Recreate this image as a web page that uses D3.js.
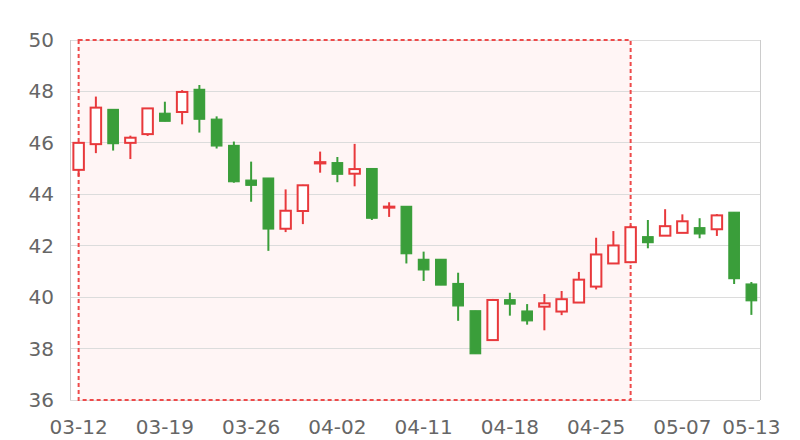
<!DOCTYPE html>
<html>
<head>
<meta charset="utf-8">
<script src="https://cdn.jsdelivr.net/npm/d3@7/dist/d3.min.js"></script>
<style>
  html, body { margin: 0; padding: 0; background: #fff; }
  svg { display: block; font-family: "DejaVu Sans", sans-serif; }
</style>
</head>
<body>
<svg id="chart" width="800" height="440"></svg>
<script>
const dates = ["03-12","03-13","03-14","03-15","03-16","03-19","03-20","03-21","03-22","03-23",
  "03-26","03-27","03-28","03-29","03-30","04-02","04-03","04-04","04-09","04-10",
  "04-11","04-12","04-13","04-16","04-17","04-18","04-19","04-20","04-23","04-24",
  "04-25","04-26","04-27","05-02","05-03","05-07","05-08","05-09","05-10","05-13"];
const opens  = [44.95,45.95,47.30,46.00,46.34,47.15,47.20,48.08,46.92,45.90,
  44.55,44.63,42.66,43.35,45.20,45.23,44.80,45.00,43.48,43.53,
  41.47,41.47,40.53,39.47,38.33,39.90,39.46,39.63,39.44,39.79,
  40.41,41.31,41.36,42.35,42.39,42.50,42.70,42.64,43.30,40.51];
const closes = [46.00,47.37,45.97,46.20,47.34,46.84,47.98,46.92,45.88,44.49,
  44.35,42.65,43.36,44.35,45.25,44.78,44.98,43.07,43.52,41.69,
  41.06,40.47,39.66,37.80,39.89,39.73,39.08,39.76,39.92,40.68,
  41.66,42.01,42.72,42.12,42.76,42.95,42.46,43.18,40.72,39.86];
const lows   = [44.70,45.60,45.70,45.37,46.27,46.84,46.72,46.40,45.78,44.45,
  43.71,41.80,42.53,42.84,44.84,44.47,44.31,43.00,43.12,41.31,
  40.63,40.47,39.08,37.80,38.33,39.28,38.93,38.71,39.30,39.79,
  40.30,41.31,41.32,41.90,42.39,42.50,42.29,42.38,40.51,39.31];
const highs  = [46.00,47.80,47.30,46.28,47.34,47.60,48.05,48.25,47.03,46.05,
  45.27,44.63,44.19,44.37,45.66,45.45,45.96,45.00,43.69,43.53,
  41.77,41.47,40.95,39.47,39.93,40.17,39.73,40.12,40.24,40.98,
  42.31,42.57,42.79,43.00,43.42,43.22,43.07,43.23,43.30,40.59];
const yTicks = [36,38,40,42,44,46,48,50];
const xLabelIdx = [0,5,10,15,20,25,30,35,39];
const areaStart = "03-12", areaEnd = "04-27";

const upColor = "#e8393c", downColor = "#3a9e3a";
const mLeft = 70, mRight = 760, mTop = 40, mBottom = 400;

const svg = d3.select("#chart");
const x = d3.scaleBand().domain(dates).range([mLeft, mRight]).padding(0);
const y = d3.scaleLinear().domain([36, 50]).range([mBottom, mTop]);
const cx = d => x(d) + x.bandwidth() / 2;

// mark area fill
svg.append("rect")
  .attr("x", cx(areaStart)).attr("y", y(50))
  .attr("width", cx(areaEnd) - cx(areaStart)).attr("height", y(36) - y(50))
  .attr("fill", "#fff5f5");

// grid
svg.append("g").selectAll("line").data(yTicks).join("line")
  .attr("x1", mLeft).attr("x2", mRight)
  .attr("y1", d => y(d)).attr("y2", d => y(d))
  .attr("stroke", "#dcdcdc").attr("stroke-width", 1)
  .attr("shape-rendering", "crispEdges");
// axis lines / border
svg.append("line").attr("x1", mLeft).attr("x2", mLeft).attr("y1", mTop).attr("y2", mBottom)
  .attr("stroke", "#ccc").attr("shape-rendering", "crispEdges");
svg.append("line").attr("x1", mRight).attr("x2", mRight).attr("y1", mTop).attr("y2", mBottom)
  .attr("stroke", "#ccc").attr("shape-rendering", "crispEdges");

// y labels
svg.append("g").selectAll("text").data(yTicks).join("text")
  .attr("x", 54).attr("y", d => y(d)).attr("dy", "0.35em")
  .attr("text-anchor", "end").attr("font-size", 20).attr("fill", "#666")
  .text(d => d);

// x labels
svg.append("g").selectAll("text").data(xLabelIdx.map(i => dates[i])).join("text")
  .attr("x", d => cx(d)).attr("y", 427).attr("dy", "0.35em")
  .attr("text-anchor", "middle").attr("font-size", 20).attr("fill", "#666")
  .text(d => d);

// mark area border
svg.append("rect")
  .attr("x", cx(areaStart)).attr("y", y(50))
  .attr("width", cx(areaEnd) - cx(areaStart)).attr("height", y(36) - y(50))
  .attr("fill", "none").attr("stroke", "#ee4a4a").attr("stroke-width", 2)
  .attr("stroke-dasharray", "4,3");

// candles
const data = dates.map((d, i) => ({ d, o: opens[i], c: closes[i], l: lows[i], h: highs[i] }));
const bw = 10.5;
const g = svg.append("g").selectAll("g").data(data).join("g");
g.append("line")
  .attr("x1", d => cx(d.d)).attr("x2", d => cx(d.d))
  .attr("y1", d => y(d.h)).attr("y2", d => y(d.l))
  .attr("stroke", d => d.c >= d.o ? upColor : downColor).attr("stroke-width", 2);
g.append("rect")
  .attr("x", d => cx(d.d) - bw / 2)
  .attr("y", d => y(Math.max(d.o, d.c)))
  .attr("width", bw)
  .attr("height", d => Math.max(0.5, Math.abs(y(d.o) - y(d.c))))
  .attr("fill", d => d.c >= d.o ? "#fff" : downColor)
  .attr("stroke", d => d.c >= d.o ? upColor : downColor)
  .attr("stroke-width", d => d.c >= d.o ? 2 : 1.2);
</script>
</body>
</html>
